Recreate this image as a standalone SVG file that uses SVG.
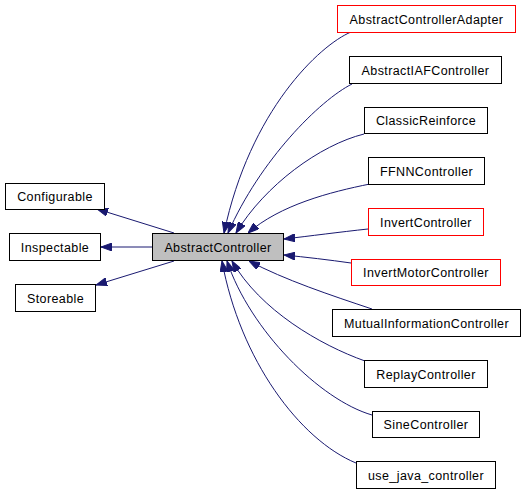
<svg xmlns="http://www.w3.org/2000/svg" width="525" height="493" viewBox="0 0 525 493">
<defs>
<marker id="arr" viewBox="0 0 11 8" refX="11" refY="4" markerWidth="11" markerHeight="8" markerUnits="userSpaceOnUse" orient="auto">
<path d="M0,0 L11,4 L0,8 z" fill="#191970" stroke="#191970" stroke-width="1"/>
</marker>
</defs>
<style>
.n rect{fill:#ffffff;stroke:#000000;stroke-width:1}
.n.red rect{stroke:#ff0000}
.n.main rect{fill:#bfbfbf}
.n text{font-family:"Liberation Sans",Arial,sans-serif;font-size:12.5px;letter-spacing:0.4px;fill:#000000;text-anchor:middle}
#edges path{fill:none;stroke:#191970;stroke-width:1;marker-end:url(#arr)}
</style>
<rect width="525" height="493" fill="#ffffff"/>
<g id="edges">
<path d="M351,32 C320,45 250,110 224,233"/>
<path d="M352,84 C320,100 260,160 228,233"/>
<path d="M364,134 C320,145 265,185 236,233"/>
<path d="M370,184 C330,192 280,205 248,233"/>
<path d="M368,229 C340,232 310,236 284,239"/>
<path d="M351,263 C330,260 305,257 284,255"/>
<path d="M372,309 C330,295 285,280 249,261"/>
<path d="M365,361 C320,345 260,310 232,261"/>
<path d="M372,415 C320,400 250,330 227,261"/>
<path d="M356,463 C300,440 240,360 222,261"/>
<path d="M174,233 L97,209"/>
<path d="M152,247 L101,247"/>
<path d="M174,261 L96,285"/>
</g>
<g id="AbstractController" class="n main"><rect x="152.5" y="233.5" width="131" height="27"/><text x="218" y="251.5">AbstractController</text></g>
<g id="Configurable" class="n"><rect x="5.5" y="183.5" width="99" height="26"/><text x="55" y="201">Configurable</text></g>
<g id="Inspectable" class="n"><rect x="9.5" y="233.5" width="91" height="27"/><text x="55" y="251.5">Inspectable</text></g>
<g id="Storeable" class="n"><rect x="15.5" y="284.5" width="80" height="27"/><text x="55.5" y="302.5">Storeable</text></g>
<g id="AbstractControllerAdapter" class="n red"><rect x="337.5" y="5.5" width="178" height="27"/><text x="426.5" y="23.5">AbstractControllerAdapter</text></g>
<g id="AbstractIAFController" class="n"><rect x="349.5" y="56.5" width="152" height="27"/><text x="425.5" y="74.5">AbstractIAFController</text></g>
<g id="ClassicReinforce" class="n"><rect x="364.5" y="107.5" width="123" height="26"/><text x="426" y="125">ClassicReinforce</text></g>
<g id="FFNNController" class="n"><rect x="368.5" y="157.5" width="116" height="27"/><text x="426.5" y="175.5">FFNNController</text></g>
<g id="InvertController" class="n red"><rect x="368.5" y="208.5" width="115" height="27"/><text x="426" y="226.5">InvertController</text></g>
<g id="InvertMotorController" class="n red"><rect x="351.5" y="259.5" width="149" height="26"/><text x="426" y="277">InvertMotorController</text></g>
<g id="MutualInformationController" class="n"><rect x="332.5" y="309.5" width="188" height="27"/><text x="426.5" y="327.5">MutualInformationController</text></g>
<g id="ReplayController" class="n"><rect x="364.5" y="360.5" width="123" height="27"/><text x="426" y="378.5">ReplayController</text></g>
<g id="SineController" class="n"><rect x="372.5" y="411.5" width="107" height="26"/><text x="426" y="429">SineController</text></g>
<g id="use_java_controller" class="n"><rect x="356.5" y="461.5" width="139" height="27"/><text x="426" y="479.5">use_java_controller</text></g>
</svg>
